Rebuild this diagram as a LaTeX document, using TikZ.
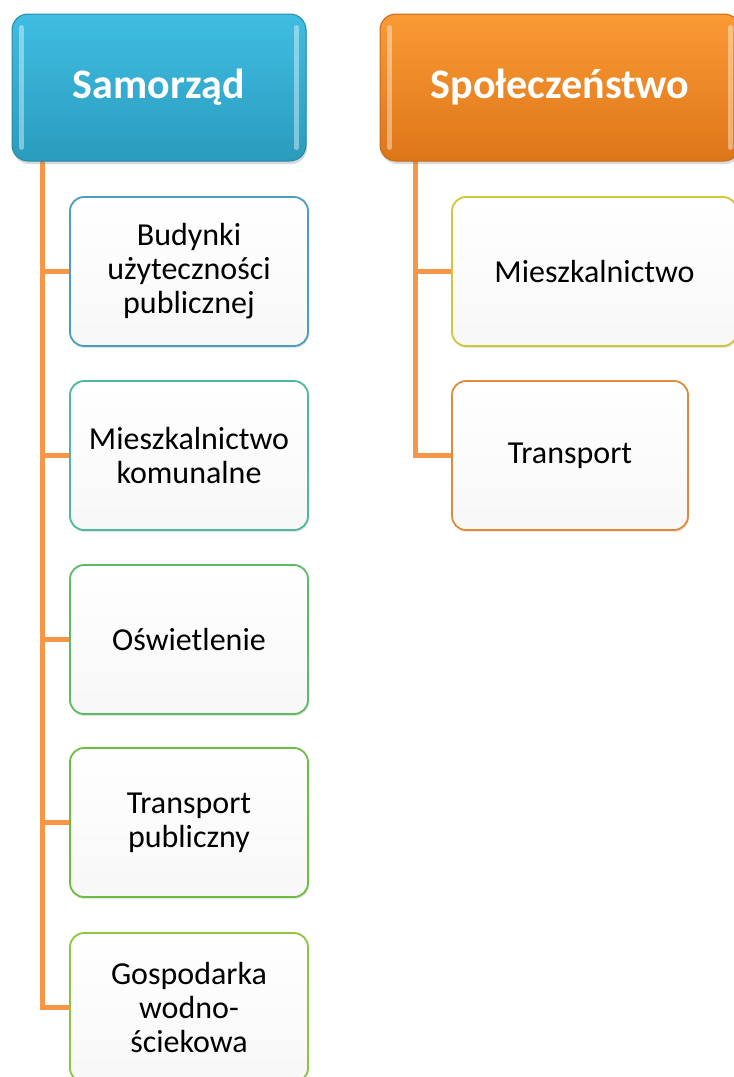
\documentclass[tikz,border=0pt]{standalone}
\usepackage{fontspec}
\setmainfont{Carlito}
\usetikzlibrary{shadows}
\definecolor{conncol}{HTML}{F79646}
\definecolor{samtop}{HTML}{40BDE2}
\definecolor{sambot}{HTML}{2A9CBD}
\definecolor{samdraw}{HTML}{2789A6}
\definecolor{spotop}{HTML}{FA9A35}
\definecolor{spobot}{HTML}{DD7619}
\definecolor{spodraw}{HTML}{C8681A}
\definecolor{bA}{HTML}{4A9EC0}
\definecolor{bB}{HTML}{4DB89A}
\definecolor{bC}{HTML}{5DBB63}
\definecolor{bD}{HTML}{6CBF3E}
\definecolor{bE}{HTML}{8CC63F}
\definecolor{bF}{HTML}{CFC63A}
\definecolor{bG}{HTML}{E08A3C}
\tikzset{
  header/.style={rounded corners=16pt, line width=1pt, minimum height=147pt,
    text=white, font=\fontsize{42}{48}\selectfont\bfseries,
    drop shadow={opacity=0.3, shadow xshift=1pt, shadow yshift=-3pt}},
  child/.style={rounded corners=14pt, line width=1.8pt, minimum height=149pt,
    top color=white, bottom color=black!3, align=center,
    font=\fontsize{32}{34}\selectfont, text=black,
    drop shadow={opacity=0.2, shadow xshift=1pt, shadow yshift=-2pt}},
  conn/.style={draw=conncol, line width=5pt, line join=miter},
  bevel/.style={white, opacity=0.4, line width=5pt, line cap=round}
}
\begin{document}
\begin{tikzpicture}[x=1pt,y=-1pt]
\useasboundingbox (0,0) rectangle (734,1077);
\coordinate (ltop) at (42,160);
\coordinate (rtop) at (415,160);
\node[child, draw=bA, minimum width=238pt] (c1) at (189,271.5) {Budynki\\użyteczności\\publicznej};
\node[child, draw=bB, minimum width=238pt] (c2) at (189,455.5) {Mieszkalnictwo\\komunalne};
\node[child, draw=bC, minimum width=238pt] (c3) at (189,639.5) {Oświetlenie};
\node[child, draw=bD, minimum width=238pt] (c4) at (189,822.5) {Transport\\publiczny};
\node[child, draw=bE, minimum width=238pt] (c5) at (189,1007.5) {Gospodarka\\wodno-\\ściekowa};
\node[child, draw=bF, minimum width=285pt] (r1) at (594.5,271.5) {Mieszkalnictwo};
\node[child, draw=bG, minimum width=236pt] (r2) at (570,455.5) {Transport};
\foreach \c in {c1,c2,c3,c4,c5} \draw[conn] (ltop) |- (\c.west);
\foreach \c in {r1,r2} \draw[conn] (rtop) |- (\c.west);
\node[header, top color=samtop, bottom color=sambot, draw=samdraw, minimum width=294pt] (sam) at (159,87.5) {Samorząd};
\node[header, top color=spotop, bottom color=spobot, draw=spodraw, minimum width=360pt] (spo) at (560,87.5) {Społeczeństwo};
\foreach \h in {sam,spo} {
  \draw[bevel] ([shift={(10pt,14pt)}]\h.south west) -- ([shift={(10pt,-14pt)}]\h.north west);
  \draw[bevel] ([shift={(-10pt,14pt)}]\h.south east) -- ([shift={(-10pt,-14pt)}]\h.north east);
}
\end{tikzpicture}
\end{document}
